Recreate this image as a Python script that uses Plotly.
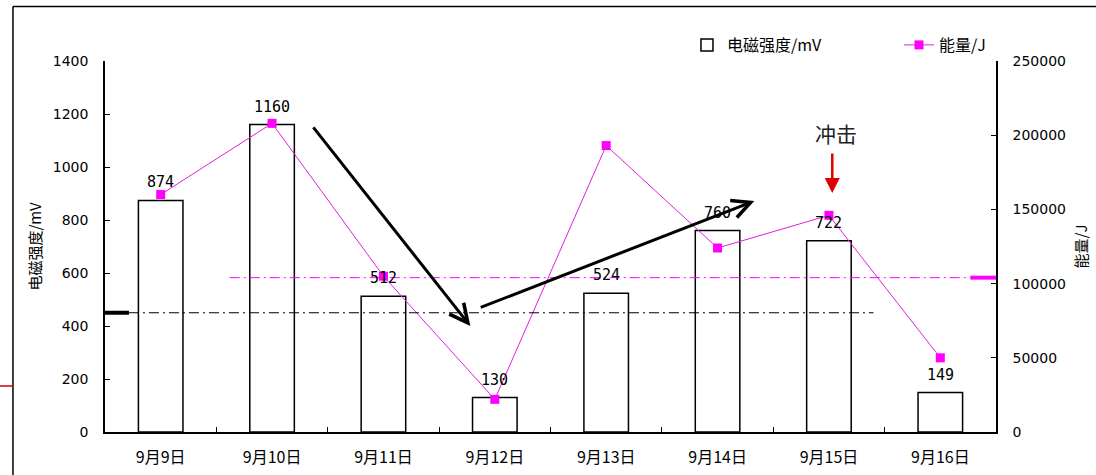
import plotly.graph_objects as go

# ---- data ----
dates = ["9月9日", "9月10日", "9月11日", "9月12日", "9月13日", "9月14日", "9月15日", "9月16日"]
em_strength = [874, 1160, 512, 130, 524, 760, 722, 149]          # 电磁强度/mV
energy = [160000, 208000, 105000, 22000, 193000, 124000, 146000, 50000]  # 能量/J

em_threshold = 450        # black dash-dot reference (left axis)
energy_threshold = 104000  # magenta dash-dot reference (right axis)

# annotation arrows: (tail_x, tail_y, head_x, head_y) on category index / left axis
trend_arrows = [
    (1.36, 1155, 2.78, 400),
    (2.86, 468, 5.33, 872),
]
impact_arrow = (6.03, 1057, 6.03, 902)
impact_label = (6.06, 1128, "冲击")

CJK = "Noto Sans CJK SC"
NUM = "DejaVu Sans"

fig = go.Figure()

fig.add_trace(go.Bar(
    x=dates, y=em_strength, name="电磁强度/mV",
    marker=dict(color="white", line=dict(color="black", width=1.5)),
    width=0.4, yaxis="y",
))

fig.add_trace(go.Scatter(
    x=dates, y=energy, name="能量/J", mode="lines+markers",
    line=dict(color="#E020E0", width=1),
    marker=dict(symbol="square", size=9, color="#FF00FF"),
    yaxis="y2",
))

# bar value labels
for d, v in zip(dates, em_strength):
    fig.add_annotation(x=d, y=v, xref="x", yref="y", text=str(v), showarrow=False,
                       yshift=18, font=dict(family="DejaVu Sans Mono", size=15, color="black"))

shapes = []
# black dash-dot threshold
shapes.append(dict(type="line", xref="x", yref="y", x0=-0.285, x1=6.4, y0=em_threshold, y1=em_threshold,
                   line=dict(color="black", width=1, dash="10px,4px,2px,4px")))
shapes.append(dict(type="line", xref="x", yref="y", x0=-0.5, x1=-0.285, y0=em_threshold, y1=em_threshold,
                   line=dict(color="black", width=4)))
# magenta dash-dot threshold
shapes.append(dict(type="line", xref="x", yref="y2", x0=0.62, x1=7.27, y0=energy_threshold, y1=energy_threshold,
                   line=dict(color="#FF00FF", width=1, dash="10px,4px,2px,4px")))
shapes.append(dict(type="line", xref="x", yref="y2", x0=7.27, x1=7.5, y0=energy_threshold, y1=energy_threshold,
                   line=dict(color="#FF00FF", width=4)))
# slide border + red mark
shapes.append(dict(type="line", xref="paper", yref="paper", x0=-0.1033, x1=1.2, y0=1.1468, y1=1.1468,
                   line=dict(color="black", width=1.5)))
shapes.append(dict(type="line", xref="paper", yref="paper", x0=-0.1033, x1=-0.1033, y0=1.1468, y1=-0.2,
                   line=dict(color="black", width=1.5)))
shapes.append(dict(type="line", xref="paper", yref="paper", x0=-0.13, x1=-0.1033, y0=0.124, y1=0.124,
                   line=dict(color="#CC0000", width=1.5)))

for (tx, ty, hx, hy) in trend_arrows:
    fig.add_annotation(x=hx, y=hy, ax=tx, ay=ty, xref="x", yref="y", axref="x", ayref="y",
                       showarrow=True, arrowhead=5, arrowsize=1.2, arrowwidth=3, arrowcolor="black", text="")

tx, ty, hx, hy = impact_arrow
fig.add_annotation(x=hx, y=hy, ax=tx, ay=ty, xref="x", yref="y", axref="x", ayref="y",
                   showarrow=True, arrowhead=2, arrowsize=1.2, arrowwidth=2.5, arrowcolor="#E00000", text="")
lx, ly, lt = impact_label
fig.add_annotation(x=lx, y=ly, xref="x", yref="y", text=lt, showarrow=False,
                   font=dict(family=CJK, size=21, color="#222222"))

fig.update_layout(
    width=1096, height=475,
    margin=dict(l=105, r=100, t=61, b=43, autoexpand=False),
    paper_bgcolor="white", plot_bgcolor="white",
    shapes=shapes,
    showlegend=True,
    legend=dict(orientation="h", xref="container", yref="container",
                x=0.6268, y=0.9053, xanchor="left", yanchor="middle",
                entrywidth=167, font=dict(family=CJK, size=16, color="black"),
                bgcolor="rgba(0,0,0,0)", traceorder="normal"),
    xaxis=dict(
        type="category", range=[-0.5, 7.5], automargin=False,
        showline=True, linecolor="black", linewidth=1.5,
        ticks="inside", ticklen=5, tickcolor="black", tickson="boundaries",
        showgrid=False, tickfont=dict(family=CJK, size=16, color="black"),
        ticklabelstandoff=10,
    ),
    yaxis=dict(
        range=[0, 1400], dtick=200, showline=True, linecolor="black", linewidth=1.5,
        ticks="inside", ticklen=5, tickcolor="black", showgrid=False, zeroline=False,
        automargin=False,
        tickfont=dict(family=NUM, size=14, color="black"), ticklabelstandoff=12,
        title=dict(text="电磁强度/mV", font=dict(family=CJK, size=15, color="black"), standoff=8),
    ),
    yaxis2=dict(
        range=[0, 250000], dtick=50000, overlaying="y", side="right", tickformat="d",
        showline=True, linecolor="black", linewidth=1.5, automargin=False,
        ticks="inside", ticklen=5, tickcolor="black", showgrid=False, zeroline=False,
        tickfont=dict(family=NUM, size=14, color="black"), ticklabelstandoff=12,
        title=dict(text="能量/J", font=dict(family=CJK, size=15, color="black"), standoff=11),
    ),
)

fig.write_html("out.html", config={"displayModeBar": False},
               post_script="document.body.style.margin='0';")
